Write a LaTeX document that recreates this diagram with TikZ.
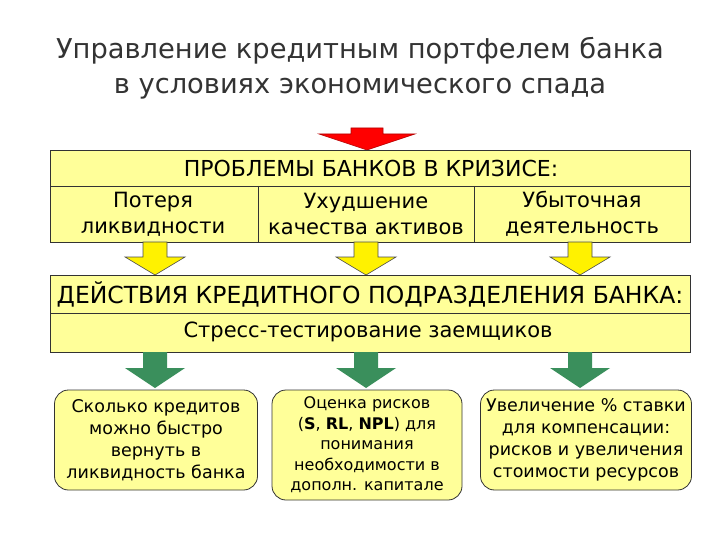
\documentclass[tikz,border=0pt]{standalone}
\usepackage{fontspec}
\setmainfont{DejaVu Sans}
\definecolor{pale}{HTML}{FFFF99}
\definecolor{grn}{HTML}{3A8F5C}
\begin{document}
\begin{tikzpicture}[x=1pt,y=-1pt,
 box/.style={draw=black!80,fill=pale,line width=0.8pt},
 txt/.style={align=center,inner sep=0pt,font=\fontsize{21}{26}\selectfont},
 rbox/.style={draw=black!80,fill=pale,line width=0.8pt,rounded corners=14pt,align=center,inner sep=0pt},
 arr/.style={line width=0.6pt}]
\useasboundingbox (0,0) rectangle (720,540);
\node[font=\fontsize{27.3}{35}\selectfont,align=center,text=black!80] (title) at (360,68) {Управление кредитным портфелем банка\\в условиях экономического спада};
% red arrow
\draw[arr,draw=red!70!black,fill=red] (351,128)--(383,128)--(383,134)--(415,134)--(367,150)--(319,134)--(351,134)--cycle;
% top box
\draw[box] (50,150) rectangle (690,242);
\draw[black!80,line width=0.8pt] (50,186)--(690,186) (258,186)--(258,242) (474,186)--(474,242);
\node[txt,font=\fontsize{22}{26}\selectfont] (p) at (371,168) {ПРОБЛЕМЫ БАНКОВ В КРИЗИСЕ:};
\node[txt] (p1) at (153,214) {Потеря\\ликвидности};
\node[txt] (p2) at (366,214) {Ухудшение\\качества активов};
\node[txt] (p3) at (582,214) {Убыточная\\деятельность};
% yellow arrows
\foreach \c in {155,366,580}{
\draw[arr,draw=black!70,fill=yellow] (\c-12,242)--(\c+12,242)--(\c+12,257)--(\c+30,257)--(\c,275)--(\c-30,257)--(\c-12,257)--cycle;}
% second box
\draw[box] (50,275) rectangle (690,352);
\draw[black!80,line width=0.8pt] (50,313)--(690,313);
\node[txt,font=\fontsize{23.5}{26}\selectfont] (d) at (370,294) {ДЕЙСТВИЯ КРЕДИТНОГО ПОДРАЗДЕЛЕНИЯ БАНКА:};
\node[txt] (s) at (368,332) {Стресс-тестирование заемщиков};
% green arrows
\foreach \c in {155,366,580}{
\fill[grn] (\c-12,352)--(\c+12,352)--(\c+12,368)--(\c+30,368)--(\c,388)--(\c-30,368)--(\c-12,368)--cycle;}
% bottom boxes
\node[rbox,minimum width=203pt,minimum height=100pt,font=\fontsize{17.5}{22}\selectfont] (b1) at (156,440) {Сколько кредитов\\можно быстро\\вернуть в\\ликвидность банка};
\node[rbox,minimum width=190pt,minimum height=110pt,font=\fontsize{16}{20.5}\selectfont] (b2) at (367,445) {Оценка рисков\\(\textbf{S}, \textbf{RL}, \textbf{NPL}) для\\понимания\\необходимости в\\дополн. капитале};
\node[rbox,minimum width=211pt,minimum height=100pt,font=\fontsize{17.5}{22}\selectfont] (b3) at (586,440) {Увеличение \% ставки\\для компенсации:\\рисков и увеличения\\стоимости ресурсов};
\end{tikzpicture}
\end{document}
